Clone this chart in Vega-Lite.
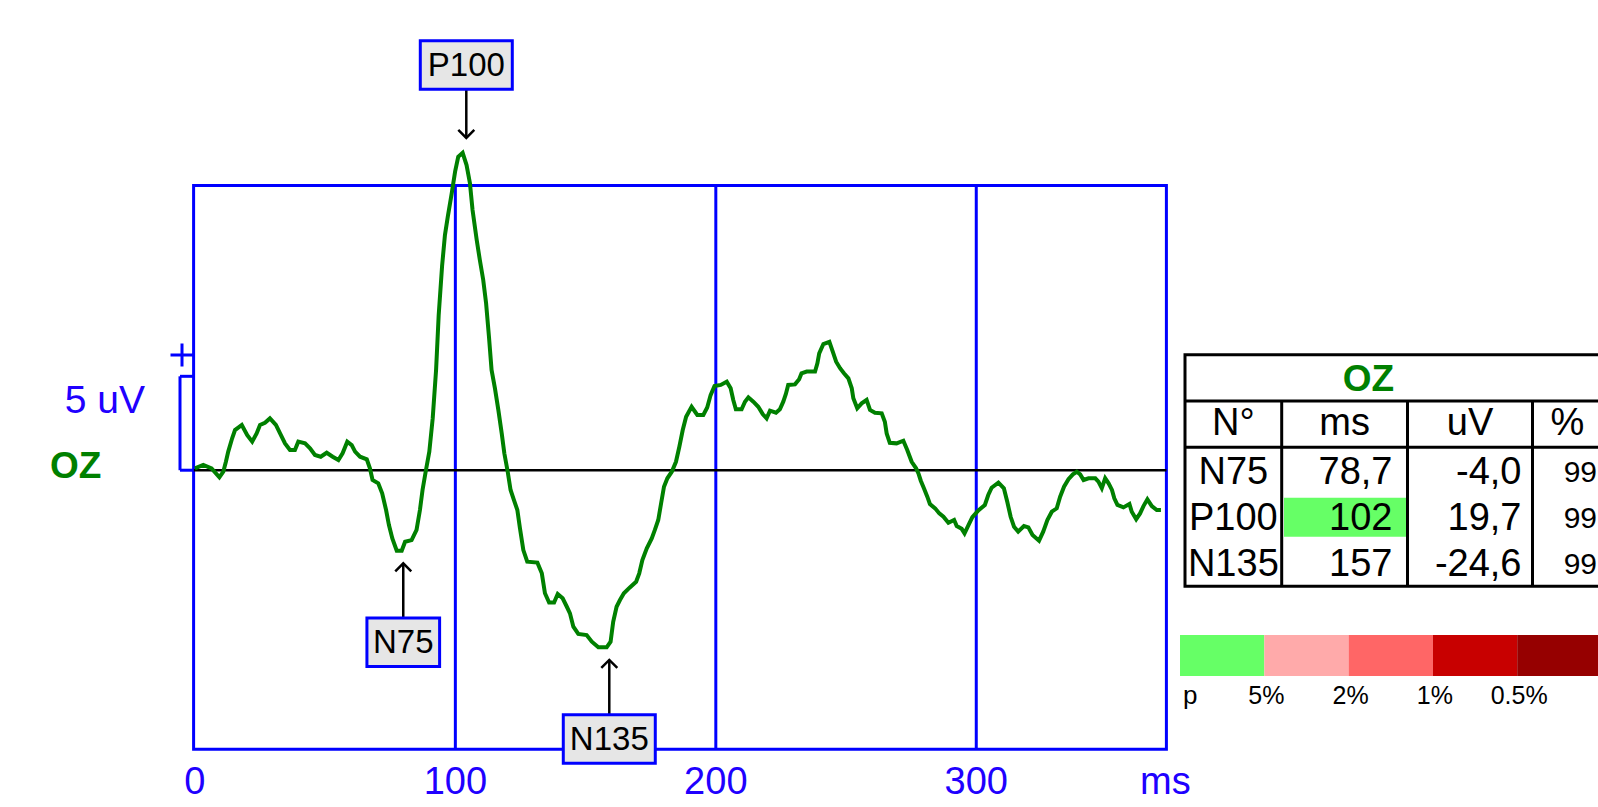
{
  "$schema": "https://vega.github.io/schema/vega-lite/v6.json",
  "autosize": {"type": "none"},
  "width": 972.8,
  "height": 563.8,
  "padding": {"left": 193.6, "top": 185.5, "right": 431.6, "bottom": 57.7},
  "background": "#ffffff",
  "config": {
    "view": {"stroke": "#0000ff", "strokeWidth": 3},
    "font": "Liberation Sans",
    "locale": {"number": {"decimal": ",", "thousands": ".", "grouping": [3], "currency": ["", " €"], "minus": "-"}}
  },
  "datasets": {
    "curve": [
      {"ms":0,"uV":0.1},{"ms":3.2,"uV":0.28},{"ms":6.4,"uV":0.1},{"ms":9.4,"uV":-0.38},{"ms":10.9,"uV":-0.08},{"ms":11.9,"uV":0.45},{"ms":12.8,"uV":0.99},{"ms":14.3,"uV":1.7},{"ms":15.4,"uV":2.14},{"ms":18,"uV":2.41},{"ms":20.1,"uV":1.87},{"ms":22,"uV":1.52},{"ms":23.7,"uV":1.96},{"ms":25,"uV":2.41},{"ms":26.9,"uV":2.53},{"ms":28.8,"uV":2.76},{"ms":31.1,"uV":2.41},{"ms":32.7,"uV":1.96},{"ms":34.6,"uV":1.43},{"ms":36.5,"uV":1.08},{"ms":38.4,"uV":1.08},{"ms":39.7,"uV":1.52},{"ms":42.3,"uV":1.43},{"ms":44.2,"uV":1.17},{"ms":46.1,"uV":0.81},{"ms":48.3,"uV":0.72},{"ms":50.6,"uV":0.93},{"ms":52.9,"uV":0.72},{"ms":55.1,"uV":0.54},{"ms":56.7,"uV":0.9},{"ms":58.5,"uV":1.52},{"ms":60.2,"uV":1.34},{"ms":61.5,"uV":0.99},{"ms":63.4,"uV":0.72},{"ms":66,"uV":0.58},{"ms":67.2,"uV":0.1},{"ms":68.2,"uV":-0.52},{"ms":70.4,"uV":-0.7},{"ms":71.9,"uV":-1.23},{"ms":73.4,"uV":-2.12},{"ms":74.5,"uV":-2.92},{"ms":75.8,"uV":-3.63},{"ms":77.5,"uV":-4.29},{"ms":79.4,"uV":-4.29},{"ms":80.7,"uV":-3.81},{"ms":83.2,"uV":-3.72},{"ms":85.1,"uV":-3.18},{"ms":86.4,"uV":-2.12},{"ms":87.4,"uV":-1.05},{"ms":88.7,"uV":0},{"ms":90,"uV":0.99},{"ms":91.3,"uV":2.76},{"ms":92.6,"uV":5.34},{"ms":93.6,"uV":8.26},{"ms":94.9,"uV":10.87},{"ms":96,"uV":12.52},{"ms":97.1,"uV":13.5},{"ms":98.6,"uV":14.74},{"ms":99.9,"uV":15.9},{"ms":101.1,"uV":16.69},
      {"ms":102.8,"uV":16.9},{"ms":104.3,"uV":16.25},{"ms":105.6,"uV":15.28},{"ms":106.6,"uV":13.86},{"ms":108.2,"uV":12.26},{"ms":109.4,"uV":11.19},{"ms":110.7,"uV":10.13},{"ms":111.8,"uV":8.89},{"ms":112.9,"uV":7.11},{"ms":113.9,"uV":5.34},{"ms":115.2,"uV":4.36},{"ms":116.5,"uV":3.21},{"ms":117.8,"uV":1.96},{"ms":118.8,"uV":0.9},{"ms":120.1,"uV":-0.08},{"ms":121.2,"uV":-1.05},{"ms":122.5,"uV":-1.59},{"ms":123.8,"uV":-2.12},{"ms":124.8,"uV":-3.09},{"ms":126.1,"uV":-4.25},{"ms":127.6,"uV":-4.87},{"ms":131.5,"uV":-4.92},{"ms":133.2,"uV":-5.49},{"ms":134.4,"uV":-6.55},{"ms":136,"uV":-7.05},{"ms":137.9,"uV":-7.05},{"ms":139.3,"uV":-6.59},{"ms":141.2,"uV":-6.82},{"ms":142.8,"uV":-7.27},{"ms":144,"uV":-7.62},{"ms":145.3,"uV":-8.33},{"ms":147.2,"uV":-8.72},{"ms":150.4,"uV":-8.78},{"ms":152.4,"uV":-9.13},{"ms":154.9,"uV":-9.43},{"ms":158.1,"uV":-9.43},{"ms":159.6,"uV":-9.13},{"ms":160.6,"uV":-8.07},{"ms":161.9,"uV":-7.27},{"ms":163.2,"uV":-6.91},{"ms":164.7,"uV":-6.55},{"ms":167,"uV":-6.24},{"ms":169.4,"uV":-5.94},{"ms":170.6,"uV":-5.49},{"ms":171.8,"uV":-4.78},{"ms":173.5,"uV":-4.16},{"ms":175.4,"uV":-3.63},{"ms":176.6,"uV":-3.18},{"ms":177.9,"uV":-2.65},{"ms":179,"uV":-1.76},{"ms":180.1,"uV":-0.88},{"ms":181.4,"uV":-0.43},{"ms":183.1,"uV":-0.08},{"ms":184.7,"uV":0.45},{"ms":186,"uV":1.25},{"ms":187.3,"uV":2.14},{"ms":188.6,"uV":2.85},{"ms":190.7,"uV":3.38},{"ms":192.9,"uV":2.94},{"ms":195.2,"uV":2.94},{"ms":196.7,"uV":3.34},{"ms":198,"uV":4.0},{"ms":199.5,"uV":4.48},
      {"ms":201.9,"uV":4.54},{"ms":204.2,"uV":4.71},{"ms":205.7,"uV":4.36},{"ms":206.7,"uV":3.74},{"ms":207.7,"uV":3.24},{"ms":209.9,"uV":3.24},{"ms":211.2,"uV":3.65},{"ms":212.5,"uV":3.88},{"ms":214.4,"uV":3.65},{"ms":216.3,"uV":3.38},{"ms":218,"uV":2.99},{"ms":219.5,"uV":2.76},{"ms":220.8,"uV":3.17},{"ms":223.1,"uV":3.06},{"ms":224.6,"uV":3.24},{"ms":225.9,"uV":3.65},{"ms":226.9,"uV":4.06},{"ms":227.8,"uV":4.54},{"ms":230.4,"uV":4.57},{"ms":232,"uV":4.84},{"ms":232.9,"uV":5.16},{"ms":234.9,"uV":5.25},{"ms":238.1,"uV":5.25},{"ms":239,"uV":5.69},{"ms":239.7,"uV":6.22},{"ms":241.3,"uV":6.72},{"ms":243.6,"uV":6.84},{"ms":244.9,"uV":6.31},{"ms":246.2,"uV":5.78},{"ms":247.7,"uV":5.43},{"ms":249.2,"uV":5.16},{"ms":250.9,"uV":4.89},{"ms":252.2,"uV":4.36},{"ms":252.8,"uV":3.83},{"ms":254.3,"uV":3.3},{"ms":256,"uV":3.56},{"ms":257.9,"uV":3.74},{"ms":259.2,"uV":3.21},{"ms":261.1,"uV":3.06},{"ms":263.7,"uV":3.03},{"ms":264.9,"uV":2.58},{"ms":265.6,"uV":1.96},{"ms":266.8,"uV":1.46},{"ms":269.4,"uV":1.43},{"ms":272,"uV":1.57},{"ms":273.5,"uV":1.08},{"ms":275.2,"uV":0.45},{"ms":276.9,"uV":0.1},{"ms":277.8,"uV":-0.17},{"ms":278.7,"uV":-0.56},{"ms":279.9,"uV":-0.96},{"ms":281.2,"uV":-1.41},{"ms":282.2,"uV":-1.8},{"ms":284.2,"uV":-2.03},{"ms":285.8,"uV":-2.3},{"ms":287.4,"uV":-2.48},{"ms":289.3,"uV":-2.8},{"ms":291.5,"uV":-2.65},{"ms":292.5,"uV":-2.97},{"ms":294.4,"uV":-3.12},{"ms":295.5,"uV":-3.36},{"ms":297.1,"uV":-2.9},{"ms":298.5,"uV":-2.5},{"ms":300.8,"uV":-2.14},
      {"ms":303.3,"uV":-1.85},{"ms":304.6,"uV":-1.32},{"ms":305.9,"uV":-0.93},{"ms":308.5,"uV":-0.66},{"ms":310.6,"uV":-0.96},{"ms":311.9,"uV":-1.68},{"ms":313.2,"uV":-2.48},{"ms":314.5,"uV":-3.01},{"ms":316.1,"uV":-3.27},{"ms":318.3,"uV":-2.97},{"ms":320,"uV":-3.04},{"ms":321.6,"uV":-3.45},{"ms":324.1,"uV":-3.75},{"ms":325.7,"uV":-3.27},{"ms":327.3,"uV":-2.65},{"ms":329,"uV":-2.21},{"ms":330.9,"uV":-2.03},{"ms":332.2,"uV":-1.41},{"ms":333.7,"uV":-0.88},{"ms":335.4,"uV":-0.48},{"ms":337.1,"uV":-0.22},{"ms":338.6,"uV":-0.08},{"ms":339.9,"uV":-0.22},{"ms":341.2,"uV":-0.52},{"ms":343.1,"uV":-0.43},{"ms":345.7,"uV":-0.43},{"ms":346.9,"uV":-0.61},{"ms":348.2,"uV":-0.96},{"ms":349.5,"uV":-0.43},{"ms":350.8,"uV":-0.7},{"ms":352.1,"uV":-1.05},{"ms":353,"uV":-1.5},{"ms":354.2,"uV":-1.85},{"ms":356.5,"uV":-1.98},{"ms":358.8,"uV":-1.8},{"ms":359.7,"uV":-2.21},{"ms":361.4,"uV":-2.61},{"ms":362.9,"uV":-2.3},{"ms":364.2,"uV":-1.91},{"ms":365.7,"uV":-1.55},{"ms":367.4,"uV":-1.91},{"ms":369.3,"uV":-2.12},{"ms":370.9,"uV":-2.12}
    ],
    "ticks": [{"ms": 0}, {"ms": 100}, {"ms": 200}, {"ms": 300}],
    "peaks": [
      {"peak": "N75", "polarity": "N", "latency": 78.7, "amplitude": -4.0, "percent": 99, "markerMs": 80.0, "markerTip": -4.96, "labelAt": -9.16},
      {"peak": "P100", "polarity": "P", "latency": 102, "amplitude": 19.7, "percent": 99, "markerMs": 104.2, "markerTip": 17.69, "labelAt": 21.58},
      {"peak": "N135", "polarity": "N", "latency": 157, "amplitude": -24.6, "percent": 99, "markerMs": 159.1, "markerTip": -10.1, "labelAt": -14.31}
    ],
    "pscale": [
      {"band": "n.s.", "edge": "5%"},
      {"band": "<5%", "edge": "2%"},
      {"band": "<2%", "edge": "1%"},
      {"band": "<1%", "edge": "0.5%"},
      {"band": "<0.5%", "edge": ""}
    ]
  },
  "resolve": {"scale": {"x": "independent", "y": "independent"}},
  "layer": [
    {
      "layer": [
        {
          "data": {"name": "ticks"},
          "transform": [{"filter": "datum.ms > 0"}],
          "mark": {"type": "rule", "color": "#0000ff", "strokeWidth": 3},
          "encoding": {
            "x": {"field": "ms", "type": "quantitative", "scale": {"domain": [-0.5, 373], "nice": false, "zero": false}, "axis": null}
          }
        },
        {
          "data": {"values": [{}]},
          "mark": {"type": "rule", "color": "#000000", "strokeWidth": 2.5},
          "encoding": {"y": {"datum": 0, "axis": null}}
        },
        {
          "data": {"name": "curve"},
          "mark": {"type": "line", "color": "#008000", "strokeWidth": 4, "clip": false},
          "encoding": {
            "x": {"field": "ms", "type": "quantitative", "scale": {"domain": [-0.5, 373], "nice": false, "zero": false}, "axis": null},
            "y": {"field": "uV", "type": "quantitative", "scale": {"domain": [-14.86, 15.16], "nice": false, "zero": false}, "axis": null}
          }
        },
        {
          "data": {"name": "ticks"},
          "mark": {"type": "text", "font": "Liberation Sans", "fontSize": 38, "color": "#2000ff", "align": "center", "baseline": "alphabetic", "dy": 44.7, "clip": false},
          "encoding": {
            "x": {"field": "ms", "type": "quantitative", "axis": null},
            "y": {"datum": -14.86, "axis": null},
            "text": {"field": "ms", "type": "quantitative", "format": "d"}
          }
        },
        {
          "data": {"values": [{}]},
          "mark": {"type": "text", "text": "ms", "font": "Liberation Sans", "fontSize": 38, "color": "#2000ff", "align": "center", "baseline": "alphabetic", "dx": -1, "dy": 44.7, "clip": false},
          "encoding": {
            "x": {"datum": 373, "axis": null},
            "y": {"datum": -14.86, "axis": null}
          }
        },
        {
          "data": {"values": [{}]},
          "mark": {"type": "rule", "color": "#0000ff", "strokeWidth": 3, "xOffset": -13.6, "clip": false},
          "encoding": {
            "x": {"datum": -0.5, "axis": null},
            "y": {"datum": 0, "axis": null},
            "y2": {"datum": 5}
          }
        },
        {
          "data": {"values": [{"uV": 0}, {"uV": 5}]},
          "mark": {"type": "rule", "color": "#0000ff", "strokeWidth": 3, "xOffset": -13.6, "clip": false},
          "encoding": {
            "x": {"datum": -0.5, "axis": null},
            "x2": {"datum": -0.5},
            "y": {"field": "uV", "type": "quantitative", "axis": null}
          }
        },
        {
          "data": {"values": [{}]},
          "mark": {"type": "point", "shape": "M-1,0H1M0,-1V1", "size": 529, "filled": false, "stroke": "#0000ff", "strokeWidth": 3, "opacity": 1, "xOffset": -11.6, "yOffset": -21.3, "clip": false},
          "encoding": {
            "x": {"datum": -0.5, "axis": null},
            "y": {"datum": 5, "axis": null}
          }
        },
        {
          "data": {"values": [{}]},
          "mark": {"type": "text", "text": "OZ", "font": "Liberation Sans", "fontSize": 37, "fontWeight": "bold", "color": "#008000", "align": "right", "baseline": "alphabetic", "dx": -92.2, "dy": 8, "clip": false},
          "encoding": {
            "x": {"datum": -0.5, "axis": null},
            "y": {"datum": 0, "axis": null}
          }
        },
        {
          "data": {"values": [{}]},
          "mark": {"type": "text", "text": "5 uV", "font": "Liberation Sans", "fontSize": 39, "color": "#2000ff", "align": "right", "baseline": "alphabetic", "dx": -48.6, "dy": -57.2, "clip": false},
          "encoding": {
            "x": {"datum": -0.5, "axis": null},
            "y": {"datum": 0, "axis": null}
          }
        },
        {
          "data": {"name": "peaks"},
          "mark": {"type": "rule", "color": "#000000", "strokeWidth": 2.5, "clip": false},
          "encoding": {
            "x": {"field": "markerMs", "type": "quantitative", "axis": null},
            "y": {"field": "markerTip", "type": "quantitative", "axis": null},
            "y2": {"field": "labelAt"}
          }
        },
        {
          "data": {"name": "peaks"},
          "transform": [{"filter": {"field": "polarity", "equal": "P"}}],
          "mark": {"type": "point", "shape": "M-1,-1L0,0L1,-1", "size": 256, "filled": false, "stroke": "#000000", "strokeWidth": 2.5, "opacity": 1, "clip": false},
          "encoding": {
            "x": {"field": "markerMs", "type": "quantitative", "axis": null},
            "y": {"field": "markerTip", "type": "quantitative", "axis": null}
          }
        },
        {
          "data": {"name": "peaks"},
          "transform": [{"filter": {"field": "polarity", "equal": "N"}}],
          "mark": {"type": "point", "shape": "M-1,1L0,0L1,1", "size": 256, "filled": false, "stroke": "#000000", "strokeWidth": 2.5, "opacity": 1, "clip": false},
          "encoding": {
            "x": {"field": "markerMs", "type": "quantitative", "axis": null},
            "y": {"field": "markerTip", "type": "quantitative", "axis": null}
          }
        },
        {
          "data": {"name": "peaks"},
          "mark": {"type": "point", "size": 8464, "filled": true, "fill": "#e6e6e6", "stroke": "#0000ff", "strokeWidth": 3, "opacity": 1, "fillOpacity": 1, "clip": false},
          "encoding": {
            "x": {"field": "markerMs", "type": "quantitative", "axis": null},
            "y": {"field": "labelAt", "type": "quantitative", "axis": null},
            "shape": {
              "field": "peak", "type": "nominal",
              "scale": {"domain": ["N75", "P100", "N135"], "range": ["M-0.79,-0.528H0.79V0.528H-0.79Z", "M-1,-0.528H1V0.528H-1Z", "M-1,-0.528H1V0.528H-1Z"]},
              "legend": null
            }
          }
        },
        {
          "data": {"name": "peaks"},
          "mark": {"type": "text", "font": "Liberation Sans", "fontSize": 33, "color": "#000000", "align": "center", "baseline": "middle", "dy": 1, "clip": false},
          "encoding": {
            "x": {"field": "markerMs", "type": "quantitative", "axis": null},
            "y": {"field": "labelAt", "type": "quantitative", "axis": null},
            "text": {"field": "peak"}
          }
        }
      ]
    },
    {
      "layer": [
        {
          "data": {"name": "peaks"},
          "transform": [{"window": [{"op": "row_number", "as": "order"}]}, {"filter": {"field": "peak", "equal": "P100"}}],
          "mark": {"type": "rect", "color": "#66ff66", "xOffset": 2.3, "x2Offset": -1.5, "yOffset": -19, "y2Offset": 20, "clip": false},
          "encoding": {
            "x": {"datum": 1, "scale": {"domain": [0, 1, 2, 3, 4], "range": [991.4, 1088.1, 1213.9, 1338.9, 1416.4], "nice": false, "zero": false}, "axis": null},
            "x2": {"datum": 2},
            "y": {"field": "order", "type": "quantitative", "scale": {"domain": [-1.5, 3.5], "range": [169.2, 400.8], "nice": false, "zero": false}, "axis": null},
            "y2": {"field": "order"}
          }
        },
        {
          "data": {"values": [{}]},
          "mark": {"type": "rect", "fill": "#ffffff", "fillOpacity": 0, "stroke": "#000000", "strokeWidth": 3, "clip": false},
          "encoding": {
            "x": {"datum": 0, "axis": null}, "x2": {"datum": 4},
            "y": {"datum": -1.5, "axis": null}, "y2": {"datum": 3.5}
          }
        },
        {
          "data": {"values": [{}]},
          "mark": {"type": "rule", "color": "#000000", "strokeWidth": 3, "clip": false},
          "encoding": {"x": {"datum": 0, "axis": null}, "x2": {"datum": 4}, "y": {"datum": -0.5, "axis": null}}
        },
        {
          "data": {"values": [{}]},
          "mark": {"type": "rule", "color": "#000000", "strokeWidth": 3, "clip": false},
          "encoding": {"x": {"datum": 0, "axis": null}, "x2": {"datum": 4}, "y": {"datum": 0.5, "axis": null}}
        },
        {
          "data": {"values": [{}]},
          "mark": {"type": "rule", "color": "#000000", "strokeWidth": 3, "clip": false},
          "encoding": {"x": {"datum": 1, "axis": null}, "y": {"datum": -0.5, "axis": null}, "y2": {"datum": 3.5}}
        },
        {
          "data": {"values": [{}]},
          "mark": {"type": "rule", "color": "#000000", "strokeWidth": 3, "clip": false},
          "encoding": {"x": {"datum": 2, "axis": null}, "y": {"datum": -0.5, "axis": null}, "y2": {"datum": 3.5}}
        },
        {
          "data": {"values": [{}]},
          "mark": {"type": "rule", "color": "#000000", "strokeWidth": 3, "clip": false},
          "encoding": {"x": {"datum": 3, "axis": null}, "y": {"datum": -0.5, "axis": null}, "y2": {"datum": 3.5}}
        },
        {
          "data": {"values": [{}]},
          "mark": {"type": "text", "text": "OZ", "font": "Liberation Sans", "fontSize": 37, "fontWeight": "bold", "color": "#008000", "align": "center", "baseline": "middle", "dy": 2, "clip": false},
          "encoding": {"x": {"datum": 1.69, "axis": null}, "y": {"datum": -1, "axis": null}}
        },
        {
          "data": {"values": [{}]},
          "mark": {"type": "text", "text": "N°", "font": "Liberation Sans", "fontSize": 38, "color": "#000000", "align": "center", "baseline": "middle", "clip": false},
          "encoding": {"x": {"datum": 0.5, "axis": null}, "y": {"datum": 0, "axis": null}}
        },
        {
          "data": {"values": [{}]},
          "mark": {"type": "text", "text": "ms", "font": "Liberation Sans", "fontSize": 38, "color": "#000000", "align": "center", "baseline": "middle", "clip": false},
          "encoding": {"x": {"datum": 1.5, "axis": null}, "y": {"datum": 0, "axis": null}}
        },
        {
          "data": {"values": [{}]},
          "mark": {"type": "text", "text": "uV", "font": "Liberation Sans", "fontSize": 38, "color": "#000000", "align": "center", "baseline": "middle", "clip": false},
          "encoding": {"x": {"datum": 2.5, "axis": null}, "y": {"datum": 0, "axis": null}}
        },
        {
          "data": {"values": [{}]},
          "mark": {"type": "text", "text": "%", "font": "Liberation Sans", "fontSize": 38, "color": "#000000", "align": "center", "baseline": "middle", "clip": false},
          "encoding": {"x": {"datum": 3.45, "axis": null}, "y": {"datum": 0, "axis": null}}
        },
        {
          "data": {"name": "peaks"},
          "transform": [{"window": [{"op": "row_number", "as": "order"}]}],
          "mark": {"type": "text", "font": "Liberation Sans", "fontSize": 38, "color": "#000000", "align": "center", "baseline": "middle", "dy": 2, "clip": false},
          "encoding": {
            "x": {"datum": 0.5, "axis": null},
            "y": {"field": "order", "type": "quantitative", "axis": null},
            "text": {"field": "peak"}
          }
        },
        {
          "data": {"name": "peaks"},
          "transform": [{"window": [{"op": "row_number", "as": "order"}]}],
          "mark": {"type": "text", "font": "Liberation Sans", "fontSize": 38, "color": "#000000", "align": "right", "baseline": "middle", "dx": -15, "dy": 2, "clip": false},
          "encoding": {
            "x": {"datum": 2, "axis": null},
            "y": {"field": "order", "type": "quantitative", "axis": null},
            "text": {"field": "latency", "type": "quantitative", "format": ".3r"}
          }
        },
        {
          "data": {"name": "peaks"},
          "transform": [{"window": [{"op": "row_number", "as": "order"}]}],
          "mark": {"type": "text", "font": "Liberation Sans", "fontSize": 38, "color": "#000000", "align": "right", "baseline": "middle", "dx": -11, "dy": 2, "clip": false},
          "encoding": {
            "x": {"datum": 3, "axis": null},
            "y": {"field": "order", "type": "quantitative", "axis": null},
            "text": {"field": "amplitude", "type": "quantitative", "format": ".1f"}
          }
        },
        {
          "data": {"name": "peaks"},
          "transform": [{"window": [{"op": "row_number", "as": "order"}]}],
          "mark": {"type": "text", "font": "Liberation Sans", "fontSize": 30, "color": "#000000", "align": "right", "baseline": "middle", "dx": -13, "dy": 2, "clip": false},
          "encoding": {
            "x": {"datum": 4, "axis": null},
            "y": {"field": "order", "type": "quantitative", "axis": null},
            "text": {"field": "percent", "type": "quantitative", "format": "d"}
          }
        }
      ]
    },
    {
      "layer": [
        {
          "data": {"name": "pscale"},
          "mark": {"type": "rect", "opacity": 1, "clip": false},
          "encoding": {
            "x": {"field": "band", "type": "nominal", "scale": {"type": "band", "domain": ["n.s.", "<5%", "<2%", "<1%", "<0.5%"], "range": [986.4, 1407.9], "paddingInner": 0, "paddingOuter": 0}, "axis": null},
            "y": {"datum": 0, "scale": {"domain": [0, 1], "range": [449.5, 490.5], "nice": false, "zero": false}, "axis": null},
            "y2": {"datum": 1},
            "color": {"field": "band", "type": "nominal", "scale": {"domain": ["n.s.", "<5%", "<2%", "<1%", "<0.5%"], "range": ["#66ff66", "#ffaaaa", "#ff6666", "#c80000", "#960000"]}, "legend": null}
          }
        },
        {
          "data": {"name": "pscale"},
          "mark": {"type": "text", "font": "Liberation Sans", "fontSize": 25, "color": "#000000", "align": "center", "baseline": "alphabetic", "dx": 2, "dy": 28, "clip": false},
          "encoding": {
            "x": {"field": "band", "type": "nominal", "bandPosition": 1, "axis": null},
            "y": {"datum": 1, "axis": null},
            "text": {"field": "edge"}
          }
        },
        {
          "data": {"values": [{}]},
          "mark": {"type": "text", "text": "p", "font": "Liberation Sans", "fontSize": 26, "color": "#000000", "align": "left", "baseline": "alphabetic", "dx": 3, "dy": 28, "clip": false},
          "encoding": {
            "x": {"datum": "n.s.", "type": "nominal", "bandPosition": 0, "axis": null},
            "y": {"datum": 1, "axis": null}
          }
        }
      ]
    }
  ]
}
